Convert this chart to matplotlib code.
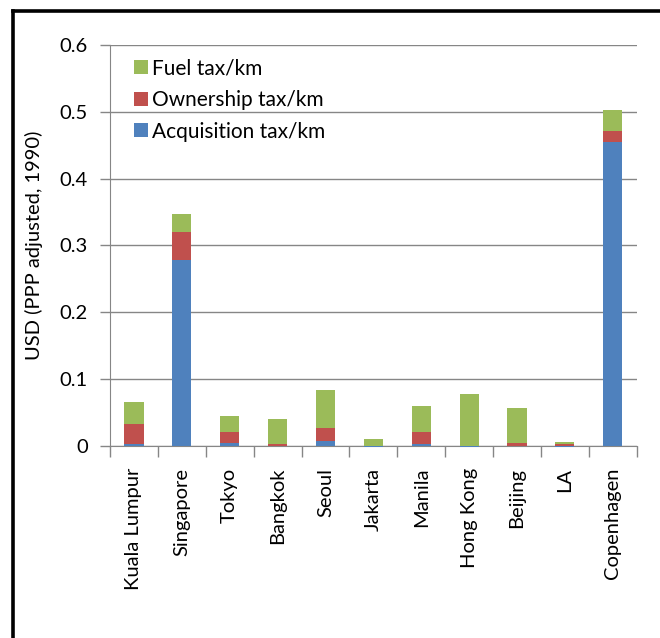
import numpy as np
import matplotlib
matplotlib.use('Agg')
import matplotlib.pyplot as plt
from matplotlib.lines import Line2D

cities = ['Kuala Lumpur', 'Singapore', 'Tokyo', 'Bangkok', 'Seoul', 'Jakarta',
          'Manila', 'Hong Kong', 'Beijing', 'LA', 'Copenhagen']
acquisition = [0.003, 0.278, 0.004, 0.000, 0.007, -0.002, 0.003, -0.002, 0.000, -0.002, 0.455]
ownership = [0.030, 0.042, 0.016, 0.003, 0.019, 0.000, 0.018, 0.000, 0.004, 0.003, 0.016]
fuel = [0.032, 0.027, 0.025, 0.037, 0.057, 0.010, 0.039, 0.077, 0.052, 0.003, 0.032]

plt.rcParams['font.family'] = ['Lato', 'DejaVu Sans']

fig = plt.figure(figsize=(6.6, 6.38), dpi=100)
ax = fig.add_axes([0.1667, 0.3014, 0.798, 0.628])

x = np.arange(len(cities))
acq = np.array(acquisition)
own = np.array(ownership)
fu = np.array(fuel)
w = 0.4
bars = ax.bar(x, acq, w, color='#4F81BD', label='Acquisition tax/km', zorder=3)
for b in bars:
    b.set_clip_on(False)
b1 = np.clip(acq, 0, None)
ax.bar(x, own, w, bottom=b1, color='#C0504D', label='Ownership tax/km', zorder=3)
ax.bar(x, fu, w, bottom=b1 + own, color='#9BBB59', label='Fuel tax/km', zorder=3)

fs = 14.5
ax.set_xlim(-0.5, len(cities) - 0.5)
ax.set_ylim(0, 0.6)
ax.set_yticks(np.arange(0, 0.61, 0.1))
ax.set_yticklabels(['0', '0.1', '0.2', '0.3', '0.4', '0.5', '0.6'], fontsize=fs)
ax.yaxis.grid(True, color='#868686', linewidth=1, zorder=0)
ax.set_xticks(x)
ax.set_xticklabels(cities, rotation=90, fontsize=fs)
ax.set_xticks(np.arange(-0.5, len(cities)), minor=True)
ax.tick_params(axis='x', which='major', length=0, pad=16)
ax.tick_params(axis='x', which='minor', length=8, color='#868686', width=1)
ax.tick_params(axis='y', length=7, color='#868686', width=1, pad=9)
for s in ['top', 'right']:
    ax.spines[s].set_visible(False)
for s in ['left', 'bottom']:
    ax.spines[s].set_color('#868686')
ax.set_ylabel('USD (PPP adjusted, 1990)', fontsize=fs, labelpad=12)

handles, labels = ax.get_legend_handles_labels()
leg = ax.legend(handles[::-1], labels[::-1], loc='upper left', bbox_to_anchor=(0.01, 1.013),
                frameon=False, handlelength=0.65, handleheight=0.65,
                handletextpad=0.2, labelspacing=0.55, prop={'family': 'Lato', 'size': 15})

# outer frame
fig.add_artist(Line2D([0.019, 1.0], [0.982, 0.982], color='black', linewidth=2.6))
fig.add_artist(Line2D([0.019, 0.019], [0.0, 0.982], color='black', linewidth=2.6))

fig.savefig('out.png', dpi=100)
